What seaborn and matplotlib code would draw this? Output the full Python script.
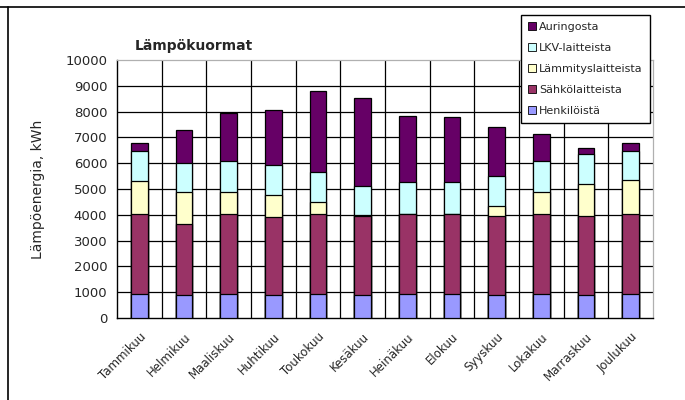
import numpy as np
import pandas as pd
import matplotlib
matplotlib.use("Agg")
import matplotlib.pyplot as plt
import matplotlib.transforms as mtransforms
import seaborn as sns
from matplotlib.lines import Line2D
from matplotlib.patches import Patch

# Monthly heat loads (kWh) by source
months = ["Tammikuu", "Helmikuu", "Maaliskuu", "Huhtikuu", "Toukokuu", "Kesäkuu",
          "Heinäkuu", "Elokuu", "Syyskuu", "Lokakuu", "Marraskuu", "Joulukuu"]
henkiloista = [930, 880, 930, 900, 930, 900, 930, 930, 900, 930, 900, 930]
sahkolaitteista = [3110, 2750, 3110, 3030, 3110, 3060, 3110, 3110, 3040, 3110, 3040, 3110]
lammityslaitteista = [1260, 1270, 830, 850, 460, 30, 0, 0, 410, 830, 1260, 1290]
lkv_laitteista = [1160, 1105, 1230, 1160, 1170, 1140, 1220, 1220, 1165, 1230, 1150, 1150]
auringosta = [330, 1265, 1860, 2130, 3140, 3410, 2560, 2540, 1875, 1020, 250, 310]

series_names = ["Henkilöistä", "Sähkölaitteista", "Lämmityslaitteista",
                "LKV-laitteista", "Auringosta"]
series_values = [henkiloista, sahkolaitteista, lammityslaitteista,
                 lkv_laitteista, auringosta]
series_colors = ["#9999FF", "#993366", "#FFFFCC", "#CCFFFF", "#660066"]
y_ticks = list(range(0, 10001, 1000))

# Long-form table with cumulative tops for stacking
rows = []
for name, vals in zip(series_names, series_values):
    for m, v in zip(months, vals):
        rows.append({"kuukausi": m, "lahde": name, "arvo": v})
df = pd.DataFrame(rows)
df["lahde"] = pd.Categorical(df["lahde"], categories=series_names, ordered=True)
df["kuukausi"] = pd.Categorical(df["kuukausi"], categories=months, ordered=True)
df = df.sort_values(["kuukausi", "lahde"])
df["kertyma"] = df.groupby("kuukausi", observed=True)["arvo"].cumsum()

sns.set_style("white")
plt.rcParams["font.family"] = ["DejaVu Sans"]

fig = plt.figure(figsize=(6.85, 4.0), dpi=100)
ax = fig.add_axes([117 / 685, 1 - 318 / 400, 536 / 685, 258 / 400])

# Draw the stack from the top layer down so lower layers overlay upper ones
for name, color in reversed(list(zip(series_names, series_colors))):
    sub = df[df["lahde"] == name]
    sns.barplot(data=sub, x="kuukausi", y="kertyma", order=months, color=color,
                saturation=1, width=0.38, edgecolor="black", linewidth=0.9,
                errorbar=None, ax=ax, zorder=3)

ax.set_xlim(-0.5, len(months) - 0.5)
ax.set_ylim(0, y_ticks[-1])
ax.set_yticks(y_ticks)
ax.set_yticklabels([str(v) for v in y_ticks], fontsize=9.5)
ax.set_xticks(range(len(months)))
ax.set_xticklabels(months, rotation=45, ha="right", rotation_mode="anchor",
                   fontsize=8.5)
shift = mtransforms.ScaledTranslation(-6 / 100, 0, fig.dpi_scale_trans)
for lbl in ax.get_xticklabels():
    lbl.set_transform(lbl.get_transform() + shift)
boundaries = np.arange(-0.5, len(months), 1)
ax.set_xticks(boundaries, minor=True)
ax.tick_params(axis="x", which="major", length=0, pad=9)
ax.tick_params(axis="x", which="minor", length=4, width=0.9, direction="out",
               color="black")
ax.tick_params(axis="y", which="major", length=4, width=0.9, direction="out",
               color="black", pad=3)
ax.set_xlabel("")
ax.set_ylabel("Lämpöenergia, kWh", fontsize=10)
ax.yaxis.set_label_coords(-0.134, 0.5)

# Black grid inside the plot area (the outer edges stay as the light border)
for yv in y_ticks[1:-1]:
    ax.axhline(yv, color="black", linewidth=0.9, zorder=1)
for xv in boundaries[1:-1]:
    ax.axvline(xv, color="black", linewidth=0.9, zorder=1)

for side in ["left", "bottom"]:
    ax.spines[side].set_color("black")
    ax.spines[side].set_linewidth(1.0)
for side in ["top", "right"]:
    ax.spines[side].set_visible(True)
    ax.spines[side].set_color("#b0b0b0")
    ax.spines[side].set_linewidth(0.9)

fig.text(135 / 685, 1 - 46 / 400, "Lämpökuormat", fontsize=10,
         fontweight="bold", ha="left", va="center")

handles = [Patch(facecolor=c, edgecolor="black", linewidth=0.6)
           for c in reversed(series_colors)]
leg = fig.legend(handles, list(reversed(series_names)), loc="upper left",
                 bbox_to_anchor=(521 / 685, 1 - 15 / 400),
                 bbox_transform=fig.transFigure, fontsize=8, frameon=True,
                 fancybox=False, framealpha=1, edgecolor="black",
                 handlelength=0.75, handleheight=0.75, handletextpad=0.3,
                 labelspacing=1.0, borderpad=0.6, borderaxespad=0)
leg.get_frame().set_linewidth(1.0)

# Outer chart frame (top and left edges)
fig.add_artist(Line2D([0, 1], [1 - 7 / 400] * 2, transform=fig.transFigure,
                      color="black", linewidth=1.2))
fig.add_artist(Line2D([8 / 685] * 2, [0, 1 - 7 / 400], transform=fig.transFigure,
                      color="black", linewidth=1.2))

fig.savefig("out.png", dpi=100)
